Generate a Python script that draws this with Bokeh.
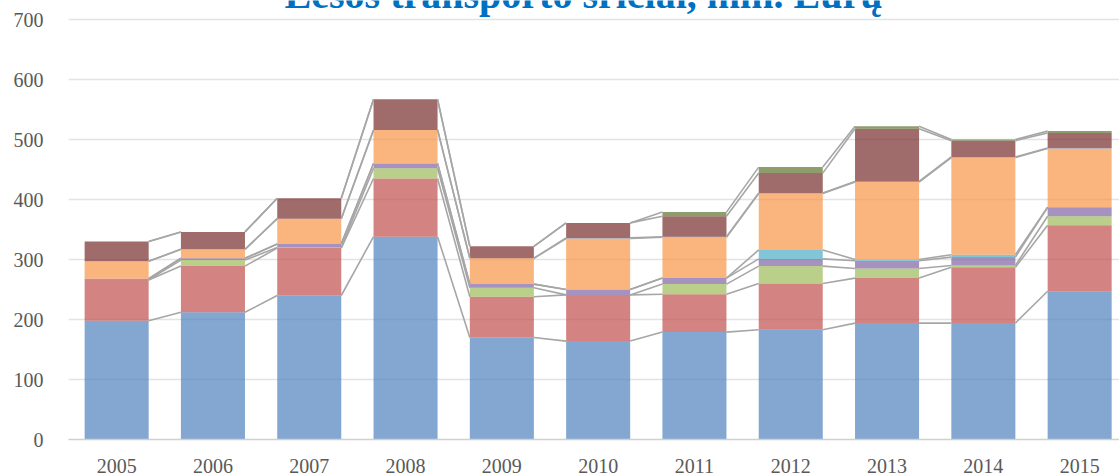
import numpy as np
from bokeh.plotting import figure
from bokeh.models import ColumnDataSource, FixedTicker, Range1d, Label
from bokeh.embed import file_html
from bokeh.resources import INLINE

years = [2005, 2006, 2007, 2008, 2009, 2010, 2011, 2012, 2013, 2014, 2015]
blue = [198, 212, 240, 338, 170, 164, 179, 183, 194, 194, 247]
red = [68, 77, 79, 97, 68, 77, 63, 77, 75, 93, 110]
green = [0, 10, 1, 17, 15, 0, 17, 29, 16, 3, 15]
purple = [2, 3, 6, 8, 6, 9, 10, 12, 13, 14, 15]
cyan = [0, 0, 0, 0, 0, 0, 0, 15, 2, 4, 0]
orange = [29, 15, 42, 56, 43, 85, 68, 94, 129, 162, 98]
steel = [0, 0, 0, 0, 0, 1, 1, 1, 1, 1, 1]
brown = [33, 29, 34, 51, 20, 25, 34, 33, 88, 27, 25]
olive = [0, 0, 0, 0, 0, 0, 7, 10, 4, 2, 3]
y_ticks = [0, 100, 200, 300, 400, 500, 600, 700]
title_text = "Lėšos transporto sričiai, mln. Eurų"

series_names = ["blue", "red", "green", "purple", "cyan", "orange", "steel", "brown", "olive"]
series_vals = [blue, red, green, purple, cyan, orange, steel, brown, olive]
colors = ["#4F81BD", "#C0504D", "#9BBB59", "#8064A2", "#4BACC6", "#F79646", "#486FA5", "#772C2C", "#5E732E"]

data = {"x": years}
for n, v in zip(series_names, series_vals):
    data[n] = v
src = ColumnDataSource(data)

SERIF = "'Liberation Serif', 'DejaVu Serif', serif"

W, H = 1119, 476
FL, FB = 68, 37
p = figure(width=W, height=H, output_backend="svg", toolbar_location=None,
           x_range=Range1d(2004.5, 2004.5 + (W - FL) / 96.3),
           y_range=Range1d(0, (H - FB) / 0.6),
           min_border_left=FL, min_border_right=0, min_border_top=0, min_border_bottom=FB)
p.outline_line_color = None
p.background_fill_color = "white"
p.border_fill_color = "white"

bw = 0.665
p.vbar_stack(series_names, x="x", width=bw, source=src, color=colors,
             fill_alpha=0.7, line_color=None)

# series lines
cum = np.cumsum(np.array(series_vals, dtype=float), axis=0)
yrs = np.array(years, dtype=float)
for k in range(cum.shape[0]):
    p.segment(x0=yrs[:-1] + bw / 2, y0=cum[k][:-1], x1=yrs[1:] - bw / 2, y1=cum[k][1:],
              line_color="#A6A6A6", line_width=1.6)

p.xgrid.visible = False
p.ygrid.grid_line_color = "#E3E3E3"
p.ygrid.grid_line_width = 1.5
p.ygrid.ticker = FixedTicker(ticks=y_ticks)

p.yaxis.ticker = FixedTicker(ticks=y_ticks)
p.yaxis.axis_line_color = None
p.yaxis.major_tick_line_color = None
p.yaxis.minor_tick_line_color = None
p.yaxis.major_label_text_font = SERIF
p.yaxis.major_label_text_font_size = "20px"
p.yaxis.major_label_text_color = "#595959"
p.yaxis.major_label_standoff = 19

p.xaxis.ticker = FixedTicker(ticks=years)
p.xaxis.axis_line_color = "#D0D0D0"
p.xaxis.axis_line_width = 1.5
p.xaxis.major_tick_line_color = None
p.xaxis.minor_tick_line_color = None
p.xaxis.major_label_text_font = SERIF
p.xaxis.major_label_text_font_size = "20px"
p.xaxis.major_label_text_color = "#595959"
p.xaxis.major_label_standoff = 13

# screen units of a Label are relative to the plot frame (bottom-left)
p.add_layout(Label(x=583 - FL, y=(H - FB) + 6, x_units="screen", y_units="screen", text=title_text,
                   text_align="center", text_baseline="alphabetic",
                   text_font=SERIF, text_font_style="bold",
                   text_font_size="40px", text_color="#0070C0"))

open("out.html", "w").write(file_html(p, INLINE))
